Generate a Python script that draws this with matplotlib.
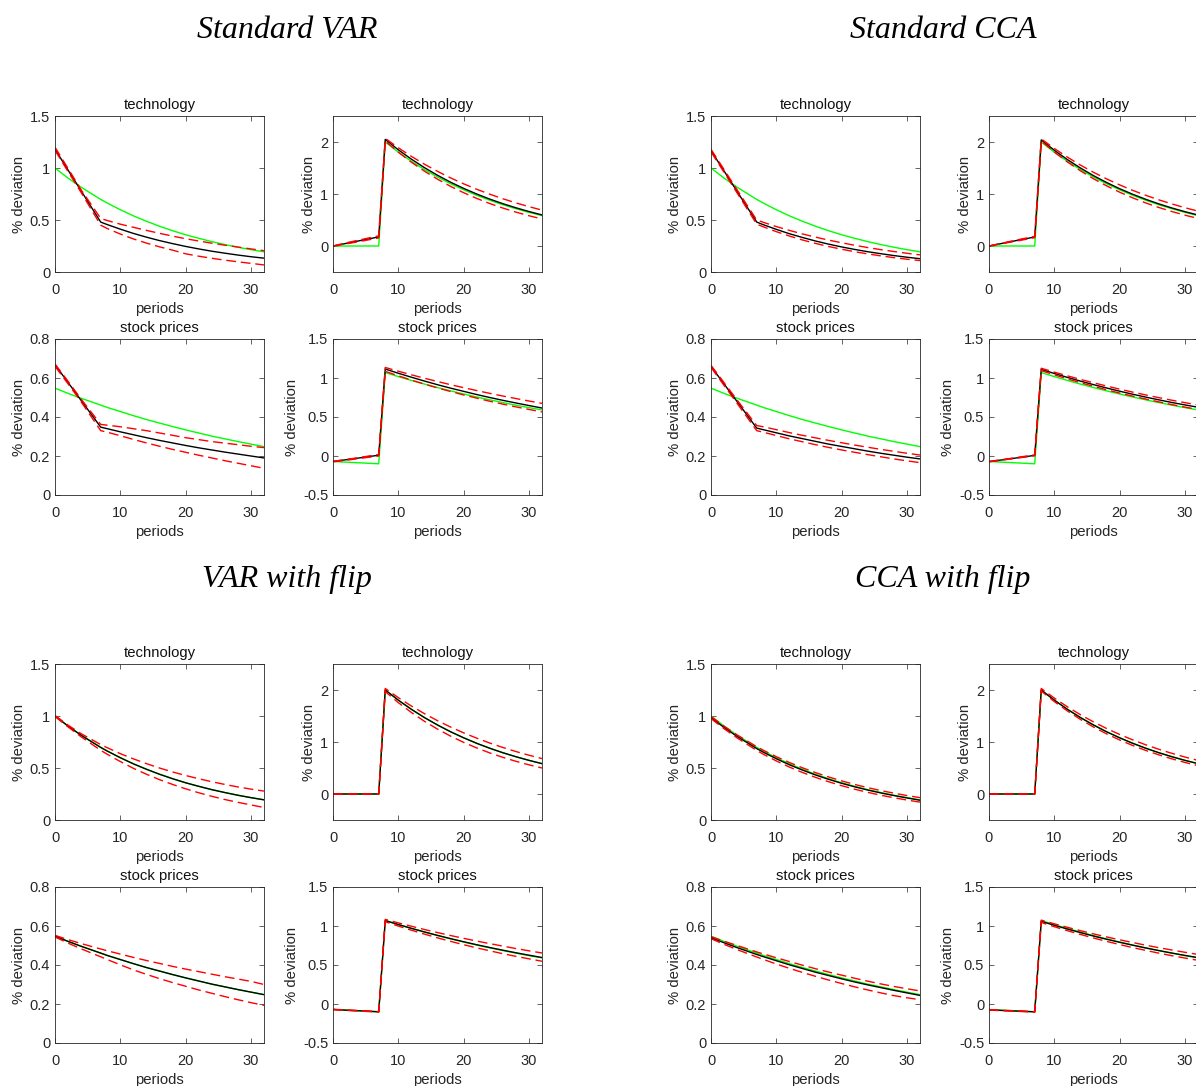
import numpy as np
import matplotlib
matplotlib.use("Agg")
import matplotlib.pyplot as plt
from matplotlib.ticker import FormatStrFormatter

plt.rcParams['font.family'] = ['Liberation Sans', 'DejaVu Sans']

periods = [0, 2, 4, 7, 8, 10, 12, 14, 16, 18, 20, 22, 24, 26, 28, 30, 32]

# model responses (green)
model_tech_surprise = [1.000, 0.903, 0.815, 0.698, 0.663, 0.599, 0.540, 0.488, 0.440, 0.397, 0.358, 0.324, 0.292, 0.264, 0.238, 0.215, 0.194]
model_tech_news = [0.0, 0.0, 0.0, 0.0, 2.000, 1.805, 1.629, 1.470, 1.327, 1.197, 1.081, 0.975, 0.880, 0.794, 0.717, 0.647, 0.584]
model_stock_surprise = [0.548, 0.521, 0.496, 0.461, 0.449, 0.428, 0.407, 0.387, 0.369, 0.351, 0.334, 0.318, 0.302, 0.288, 0.274, 0.261, 0.248]
model_stock_news = [-0.070, -0.079, -0.087, -0.100, 1.070, 1.018, 0.969, 0.922, 0.877, 0.835, 0.795, 0.756, 0.720, 0.685, 0.652, 0.620, 0.591]

# standard VAR
var_tech_surprise = [1.180, 0.980, 0.780, 0.480, 0.456, 0.412, 0.371, 0.335, 0.302, 0.273, 0.246, 0.222, 0.200, 0.181, 0.163, 0.147, 0.133]
var_tech_surprise_hi = [1.200, 0.995, 0.790, 0.515, 0.495, 0.460, 0.430, 0.400, 0.372, 0.345, 0.320, 0.298, 0.277, 0.258, 0.240, 0.222, 0.205]
var_tech_surprise_lo = [1.170, 0.965, 0.765, 0.450, 0.418, 0.365, 0.318, 0.278, 0.242, 0.210, 0.175, 0.152, 0.132, 0.114, 0.098, 0.083, 0.068]
var_tech_news = [0.0, 0.050, 0.100, 0.175, 2.050, 1.850, 1.670, 1.507, 1.360, 1.227, 1.108, 1.000, 0.902, 0.814, 0.735, 0.663, 0.598]
var_tech_news_hi = [0.0, 0.060, 0.115, 0.195, 2.070, 1.889, 1.724, 1.573, 1.436, 1.310, 1.196, 1.091, 0.996, 0.909, 0.829, 0.757, 0.690]
var_tech_news_lo = [0.0, 0.040, 0.085, 0.155, 2.020, 1.804, 1.611, 1.439, 1.285, 1.147, 1.025, 0.915, 0.817, 0.730, 0.652, 0.582, 0.520]
var_stock_surprise = [0.668, 0.577, 0.485, 0.348, 0.340, 0.324, 0.309, 0.294, 0.280, 0.267, 0.254, 0.242, 0.231, 0.220, 0.210, 0.200, 0.190]
var_stock_surprise_hi = [0.672, 0.583, 0.492, 0.362, 0.358, 0.350, 0.340, 0.330, 0.318, 0.306, 0.294, 0.284, 0.274, 0.266, 0.258, 0.250, 0.243]
var_stock_surprise_lo = [0.660, 0.570, 0.478, 0.330, 0.322, 0.304, 0.285, 0.267, 0.250, 0.234, 0.219, 0.204, 0.190, 0.176, 0.163, 0.150, 0.137]
var_stock_news = [-0.070, -0.048, -0.025, 0.010, 1.115, 1.061, 1.010, 0.961, 0.914, 0.870, 0.829, 0.788, 0.750, 0.714, 0.680, 0.647, 0.615]
var_stock_news_hi = [-0.068, -0.045, -0.020, 0.020, 1.135, 1.087, 1.041, 0.997, 0.955, 0.914, 0.876, 0.839, 0.803, 0.769, 0.737, 0.705, 0.675]
var_stock_news_lo = [-0.075, -0.055, -0.032, 0.000, 1.085, 1.028, 0.973, 0.922, 0.873, 0.827, 0.783, 0.742, 0.702, 0.665, 0.630, 0.597, 0.565]

# standard CCA
cca_tech_surprise = [1.167, 0.971, 0.774, 0.480, 0.455, 0.410, 0.368, 0.332, 0.298, 0.268, 0.241, 0.217, 0.195, 0.176, 0.158, 0.142, 0.128]
cca_tech_surprise_hi = [1.180, 0.985, 0.790, 0.500, 0.478, 0.437, 0.400, 0.366, 0.335, 0.307, 0.281, 0.257, 0.235, 0.215, 0.197, 0.180, 0.165]
cca_tech_surprise_lo = [1.155, 0.958, 0.760, 0.460, 0.435, 0.388, 0.346, 0.308, 0.275, 0.245, 0.219, 0.195, 0.174, 0.155, 0.138, 0.123, 0.110]
cca_tech_news = [0.0, 0.050, 0.100, 0.173, 2.040, 1.841, 1.662, 1.500, 1.353, 1.221, 1.102, 0.995, 0.898, 0.810, 0.731, 0.660, 0.596]
cca_tech_news_hi = [0.0, 0.055, 0.110, 0.185, 2.060, 1.876, 1.709, 1.556, 1.417, 1.291, 1.175, 1.070, 0.975, 0.888, 0.809, 0.736, 0.671]
cca_tech_news_lo = [0.0, 0.045, 0.090, 0.160, 2.020, 1.807, 1.616, 1.446, 1.293, 1.157, 1.035, 0.926, 0.828, 0.741, 0.663, 0.593, 0.530]
cca_stock_surprise = [0.660, 0.569, 0.479, 0.343, 0.335, 0.319, 0.303, 0.289, 0.275, 0.261, 0.249, 0.237, 0.225, 0.214, 0.204, 0.194, 0.185]
cca_stock_surprise_hi = [0.665, 0.576, 0.487, 0.356, 0.350, 0.335, 0.320, 0.306, 0.293, 0.280, 0.268, 0.256, 0.245, 0.234, 0.224, 0.214, 0.205]
cca_stock_surprise_lo = [0.655, 0.562, 0.470, 0.330, 0.322, 0.305, 0.288, 0.273, 0.258, 0.244, 0.231, 0.219, 0.207, 0.196, 0.185, 0.175, 0.166]
cca_stock_news = [-0.072, -0.050, -0.027, 0.008, 1.110, 1.058, 1.008, 0.960, 0.915, 0.872, 0.831, 0.792, 0.755, 0.720, 0.686, 0.655, 0.625]
cca_stock_news_hi = [-0.070, -0.046, -0.022, 0.015, 1.125, 1.075, 1.028, 0.982, 0.939, 0.897, 0.857, 0.819, 0.783, 0.748, 0.715, 0.684, 0.654]
cca_stock_news_lo = [-0.075, -0.053, -0.030, 0.002, 1.095, 1.041, 0.989, 0.940, 0.894, 0.849, 0.807, 0.768, 0.730, 0.694, 0.659, 0.627, 0.596]

# VAR with flip
fvar_tech_surprise = [1.000, 0.903, 0.815, 0.698, 0.663, 0.599, 0.540, 0.488, 0.440, 0.397, 0.358, 0.324, 0.292, 0.264, 0.238, 0.215, 0.194]
fvar_tech_surprise_hi = [1.005, 0.912, 0.830, 0.725, 0.695, 0.638, 0.588, 0.542, 0.500, 0.462, 0.428, 0.397, 0.368, 0.342, 0.318, 0.297, 0.278]
fvar_tech_surprise_lo = [0.995, 0.895, 0.800, 0.670, 0.632, 0.562, 0.497, 0.440, 0.388, 0.342, 0.300, 0.262, 0.228, 0.197, 0.170, 0.145, 0.120]
fvar_tech_news = [0.0, 0.0, 0.0, 0.0, 2.000, 1.805, 1.629, 1.470, 1.327, 1.197, 1.081, 0.975, 0.880, 0.794, 0.717, 0.647, 0.584]
fvar_tech_news_hi = [0.0, 0.0, 0.0, 0.0, 2.030, 1.853, 1.692, 1.545, 1.410, 1.288, 1.176, 1.074, 0.980, 0.895, 0.817, 0.746, 0.681]
fvar_tech_news_lo = [0.0, 0.0, 0.0, 0.0, 1.970, 1.757, 1.568, 1.398, 1.248, 1.113, 0.993, 0.886, 0.790, 0.705, 0.629, 0.561, 0.500]
fvar_stock_surprise = [0.548, 0.521, 0.496, 0.461, 0.449, 0.428, 0.407, 0.387, 0.369, 0.351, 0.334, 0.318, 0.302, 0.288, 0.274, 0.261, 0.248]
fvar_stock_surprise_hi = [0.552, 0.530, 0.510, 0.482, 0.473, 0.456, 0.439, 0.423, 0.408, 0.393, 0.379, 0.366, 0.353, 0.340, 0.328, 0.316, 0.300]
fvar_stock_surprise_lo = [0.544, 0.512, 0.483, 0.442, 0.428, 0.401, 0.375, 0.352, 0.330, 0.310, 0.291, 0.272, 0.255, 0.238, 0.222, 0.207, 0.193]
fvar_stock_news = [-0.070, -0.079, -0.087, -0.100, 1.070, 1.019, 0.970, 0.924, 0.880, 0.838, 0.798, 0.760, 0.724, 0.690, 0.657, 0.626, 0.596]
fvar_stock_news_hi = [-0.068, -0.076, -0.084, -0.096, 1.085, 1.040, 0.997, 0.955, 0.916, 0.878, 0.842, 0.807, 0.774, 0.742, 0.711, 0.682, 0.654]
fvar_stock_news_lo = [-0.072, -0.082, -0.090, -0.104, 1.055, 0.999, 0.946, 0.896, 0.848, 0.803, 0.760, 0.720, 0.682, 0.645, 0.611, 0.579, 0.548]

# CCA with flip
fcca_tech_surprise = [0.985, 0.890, 0.803, 0.687, 0.652, 0.589, 0.531, 0.480, 0.433, 0.391, 0.353, 0.319, 0.288, 0.260, 0.235, 0.212, 0.190]
fcca_tech_surprise_hi = [0.995, 0.902, 0.818, 0.705, 0.671, 0.609, 0.553, 0.502, 0.456, 0.414, 0.376, 0.342, 0.311, 0.283, 0.258, 0.235, 0.215]
fcca_tech_surprise_lo = [0.975, 0.878, 0.789, 0.669, 0.633, 0.568, 0.509, 0.457, 0.410, 0.368, 0.330, 0.296, 0.266, 0.238, 0.214, 0.192, 0.172]
fcca_tech_news = [0.0, 0.0, 0.0, 0.0, 2.000, 1.805, 1.629, 1.470, 1.327, 1.197, 1.081, 0.975, 0.880, 0.794, 0.717, 0.647, 0.584]
fcca_tech_news_hi = [0.0, 0.0, 0.0, 0.0, 2.030, 1.845, 1.677, 1.525, 1.386, 1.260, 1.145, 1.041, 0.946, 0.860, 0.782, 0.711, 0.646]
fcca_tech_news_lo = [0.0, 0.0, 0.0, 0.0, 1.980, 1.778, 1.597, 1.434, 1.288, 1.157, 1.039, 0.933, 0.838, 0.753, 0.676, 0.607, 0.545]
fcca_stock_surprise = [0.540, 0.514, 0.489, 0.454, 0.443, 0.422, 0.401, 0.382, 0.363, 0.346, 0.329, 0.313, 0.298, 0.284, 0.270, 0.257, 0.244]
fcca_stock_surprise_hi = [0.545, 0.522, 0.500, 0.467, 0.457, 0.437, 0.418, 0.399, 0.381, 0.364, 0.348, 0.332, 0.317, 0.303, 0.290, 0.278, 0.267]
fcca_stock_surprise_lo = [0.535, 0.506, 0.479, 0.441, 0.429, 0.405, 0.383, 0.362, 0.342, 0.323, 0.305, 0.288, 0.272, 0.257, 0.243, 0.232, 0.222]
fcca_stock_news = [-0.075, -0.083, -0.090, -0.100, 1.060, 1.009, 0.961, 0.915, 0.871, 0.830, 0.791, 0.754, 0.718, 0.685, 0.653, 0.623, 0.595]
fcca_stock_news_hi = [-0.072, -0.080, -0.087, -0.097, 1.075, 1.028, 0.983, 0.940, 0.899, 0.860, 0.823, 0.788, 0.754, 0.722, 0.692, 0.663, 0.635]
fcca_stock_news_lo = [-0.078, -0.086, -0.093, -0.104, 1.045, 0.991, 0.940, 0.892, 0.846, 0.803, 0.762, 0.723, 0.687, 0.652, 0.619, 0.589, 0.560]

W, H = 1196, 1086
GRAY = '#262626'

fig = plt.figure(figsize=(W / 100, H / 100), dpi=100)


def panel(x0, x1, y0, y1, title, model, mid, hi, lo, ylim, yticks):
    ax = fig.add_axes([x0 / W, 1 - y1 / H, (x1 - x0) / W, (y1 - y0) / H])
    ax.plot(periods, model, color='#00ff00', lw=1.0)
    ax.plot(periods, mid, color='k', lw=1.0)
    for band in (hi, lo):
        ax.plot(periods, band, color='#ff0000', lw=1.0, dashes=(7, 3.5))
    ax.set_xlim(0, 32)
    ax.set_ylim(*ylim)
    ax.set_xticks([0, 10, 20, 30])
    ax.set_yticks(yticks)
    ax.yaxis.set_major_formatter(FormatStrFormatter('%g'))
    ax.tick_params(direction='in', top=True, right=True, length=3.5, width=0.5,
                   labelsize=10.5, colors=GRAY, labelcolor=GRAY)
    ax.tick_params(axis='x', pad=8)
    ax.tick_params(axis='y', pad=3.5)
    for s in ax.spines.values():
        s.set_linewidth(0.6)
        s.set_color(GRAY)
    ax.set_title(title, fontsize=10.7, pad=5, color='#111111')
    ax.set_xlabel('periods', fontsize=10.7, labelpad=3.5, color=GRAY)
    ax.set_ylabel('% deviation', fontsize=10.7, labelpad=3, color=GRAY)
    return ax


groups = [
    ('Standard VAR', 0, 0,
     (var_tech_surprise, var_tech_surprise_hi, var_tech_surprise_lo),
     (var_tech_news, var_tech_news_hi, var_tech_news_lo),
     (var_stock_surprise, var_stock_surprise_hi, var_stock_surprise_lo),
     (var_stock_news, var_stock_news_hi, var_stock_news_lo)),
    ('Standard CCA', 656, 0,
     (cca_tech_surprise, cca_tech_surprise_hi, cca_tech_surprise_lo),
     (cca_tech_news, cca_tech_news_hi, cca_tech_news_lo),
     (cca_stock_surprise, cca_stock_surprise_hi, cca_stock_surprise_lo),
     (cca_stock_news, cca_stock_news_hi, cca_stock_news_lo)),
    ('VAR with flip', 0, 548,
     (fvar_tech_surprise, fvar_tech_surprise_hi, fvar_tech_surprise_lo),
     (fvar_tech_news, fvar_tech_news_hi, fvar_tech_news_lo),
     (fvar_stock_surprise, fvar_stock_surprise_hi, fvar_stock_surprise_lo),
     (fvar_stock_news, fvar_stock_news_hi, fvar_stock_news_lo)),
    ('CCA with flip', 656, 548,
     (fcca_tech_surprise, fcca_tech_surprise_hi, fcca_tech_surprise_lo),
     (fcca_tech_news, fcca_tech_news_hi, fcca_tech_news_lo),
     (fcca_stock_surprise, fcca_stock_surprise_hi, fcca_stock_surprise_lo),
     (fcca_stock_news, fcca_stock_news_hi, fcca_stock_news_lo)),
]

for name, dx, dy, ts, tn, ss, sn in groups:
    fig.text((287 + dx) / W, 1 - (31 + dy) / H, name, ha='center', va='center',
             fontsize=23, style='italic', family='Liberation Serif')
    lx0, lx1 = 55 + dx, 264 + dx
    rx0, rx1 = 333 + dx, 542 + dx
    panel(lx0, lx1, 116 + dy, 272 + dy, 'technology', model_tech_surprise, *ts,
          (0, 1.5), [0, 0.5, 1, 1.5])
    panel(rx0, rx1, 116 + dy, 272 + dy, 'technology', model_tech_news, *tn,
          (-0.5, 2.5), [0, 1, 2])
    panel(lx0, lx1, 339 + dy, 495 + dy, 'stock prices', model_stock_surprise, *ss,
          (0, 0.8), [0, 0.2, 0.4, 0.6, 0.8])
    panel(rx0, rx1, 339 + dy, 495 + dy, 'stock prices', model_stock_news, *sn,
          (-0.5, 1.5), [-0.5, 0, 0.5, 1, 1.5])

fig.savefig('out.png', dpi=100)
